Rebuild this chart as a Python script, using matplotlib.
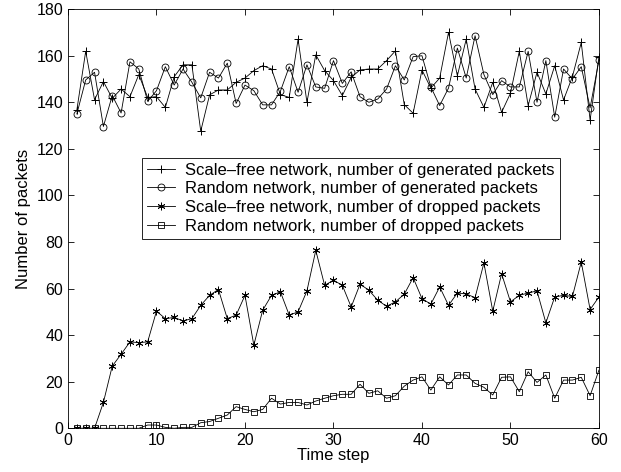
import matplotlib
matplotlib.use("Agg")
import matplotlib.pyplot as plt
import numpy as np

plt.rcParams['font.family'] = ['Liberation Sans', 'DejaVu Sans']

# time steps 1..60
steps = list(range(1, 61))

# scale-free network, generated packets
sf_gen = [136.7, 161.9, 141.1, 148.9, 141.7, 145.7, 142.4, 151.9, 142.1, 142.4,
          137.8, 151.0, 156.1, 156.1, 127.6, 143.2, 145.3, 145.3, 148.6, 150.4,
          153.6, 155.7, 154.3, 143.3, 142.1, 167.1, 140.0, 160.4, 153.6, 149.3,
          142.9, 150.7, 153.9, 154.3, 154.3, 157.9, 162.1, 139.0, 135.3, 153.9,
          146.1, 150.4, 170.0, 151.4, 167.1, 145.7, 137.8, 148.6, 135.7, 143.9,
          161.9, 138.6, 152.9, 143.6, 155.7, 141.0, 151.0, 165.7, 132.4, 159.6]

# random network, generated packets
rnd_gen = [135.0, 149.6, 152.9, 129.6, 142.9, 135.4, 157.4, 154.3, 140.4, 145.0,
           155.3, 147.4, 154.3, 148.6, 141.9, 152.9, 150.4, 156.8, 139.5, 147.4,
           145.0, 138.9, 138.9, 144.7, 155.3, 144.3, 156.1, 146.6, 146.0, 157.9,
           148.1, 153.1, 142.4, 140.0, 141.4, 145.7, 155.7, 149.6, 159.6, 160.0,
           146.6, 138.6, 146.1, 163.3, 150.4, 168.6, 151.9, 143.3, 149.3, 146.6,
           146.6, 161.9, 140.0, 157.9, 133.6, 154.3, 150.0, 155.3, 137.6, 158.1]

# scale-free network, dropped packets
sf_drop = [0, 0, 0, 11.1, 26.7, 31.8, 37.1, 36.8, 37.1, 50.3,
           47.1, 47.6, 46.1, 47.1, 52.8, 57.1, 59.6, 47.1, 48.6, 57.1,
           35.7, 50.7, 57.1, 58.6, 48.6, 50.0, 59.0, 76.4, 61.4, 63.6,
           61.4, 52.1, 61.9, 59.3, 55.0, 52.4, 54.3, 57.6, 64.7, 55.7,
           53.3, 60.7, 52.8, 58.1, 57.7, 56.1, 71.0, 50.3, 66.4, 54.3,
           57.1, 58.1, 59.0, 45.3, 56.4, 57.1, 56.6, 71.4, 51.0, 56.4]

# random network, dropped packets
rnd_drop = [0, 0, 0, 0, 0, 0, 0, 0, 1.4, 1.4,
            0.4, 0, 0.4, 0.4, 2.4, 2.9, 4.3, 5.7, 9.3, 8.1,
            7.1, 8.1, 12.9, 10.4, 11.1, 11.1, 10.0, 11.7, 12.9, 14.0,
            14.6, 14.6, 18.9, 15.0, 16.1, 12.9, 14.0, 18.1, 20.7, 22.1,
            16.4, 22.1, 18.6, 22.9, 22.9, 19.3, 17.6, 14.3, 21.9, 22.1,
            15.7, 24.3, 19.7, 22.9, 12.9, 20.7, 20.7, 21.9, 14.0, 25.0]

fig = plt.figure(figsize=(6.21, 4.72), dpi=100)
ax = fig.add_axes([0.1095, 0.0926, 0.855, 0.888])

lw = 0.6
ax.plot(steps, sf_gen, color='black', lw=lw, marker='+', ms=6, mew=0.7,
        label='Scale\u2013free network, number of generated packets')
ax.plot(steps, rnd_gen, color='black', lw=lw, marker='o', ms=5, mew=0.6, mfc='none',
        label='Random network, number of generated packets')
ax.plot(steps, sf_drop, color='black', lw=lw, marker=(6, 2, 0), ms=5.5, mew=0.6,
        label='Scale\u2013free network, number of dropped packets')
ax.plot(steps, rnd_drop, color='black', lw=lw, marker='s', ms=4, mew=0.6, mfc='none',
        label='Random network, number of dropped packets')

ax.set_xlim(0, 60)
ax.set_ylim(0, 180)
ax.set_xticks(np.arange(0, 61, 10))
ax.set_yticks(np.arange(0, 181, 20))
ax.tick_params(direction='in', top=True, right=True, labelsize=11.5, length=4, width=0.6)
for s in ax.spines.values():
    s.set_linewidth(0.6)

ax.set_xlabel('Time step', fontsize=12, labelpad=0)
ax.set_ylabel('Number of packets', fontsize=12, labelpad=4)

leg = ax.legend(loc='upper left', bbox_to_anchor=(0.139, 0.646), fontsize=12,
                fancybox=False, framealpha=1, edgecolor='black',
                handlelength=1.7, handletextpad=0.6, borderpad=0.3,
                labelspacing=0.22, borderaxespad=0)
leg.get_frame().set_linewidth(0.6)

fig.savefig('out.png', dpi=100)
